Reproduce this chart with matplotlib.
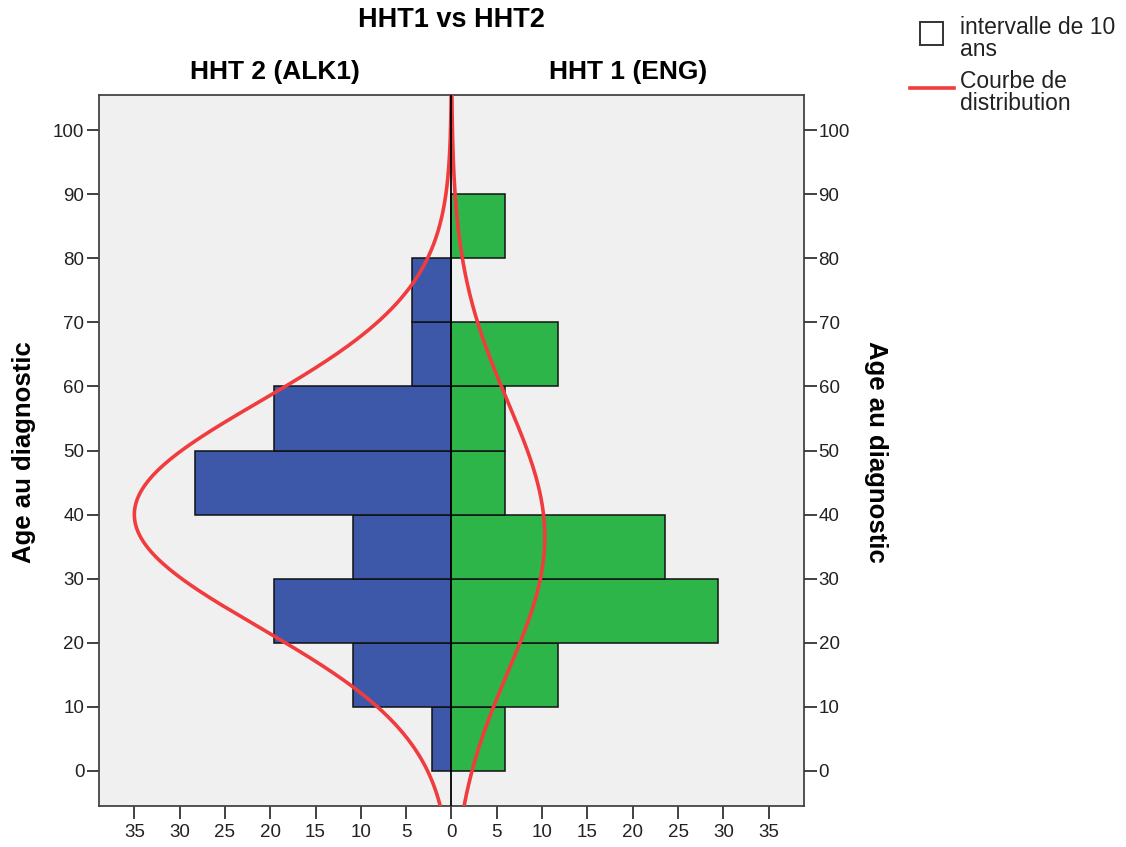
import numpy as np
import matplotlib.pyplot as plt

plt.rcParams['font.family'] = ['Liberation Sans', 'DejaVu Sans']

# Age bins (lower edge, width 10)
age_bins = [0, 10, 20, 30, 40, 50, 60, 70, 80]
# HHT 2 (ALK1) - left side
hht2_values = [2.17, 10.87, 19.57, 10.87, 28.26, 19.57, 4.35, 4.35, 0.0]
# HHT 1 (ENG) - right side
hht1_values = [5.88, 11.76, 29.41, 23.53, 5.88, 5.88, 11.76, 0.0, 5.88]

# normal curve parameters (mean, sd, peak)
hht2_curve = (40.0, 17.6, 35.0)
hht1_curve = (36.5, 21.0, 10.3)

x_ticks = [-35, -30, -25, -20, -15, -10, -5, 0, 5, 10, 15, 20, 25, 30, 35]
y_ticks = [0, 10, 20, 30, 40, 50, 60, 70, 80, 90, 100]

blue = '#3d58a9'
green = '#2eb54a'
red = '#f03c3e'

fig = plt.figure(figsize=(11.26, 8.47), dpi=100)
ax = fig.add_axes([0.0879, 0.0484, 0.6261, 0.8394])
ax.set_facecolor('#f0f0f0')

ax.barh(age_bins, [-v for v in hht2_values], height=10, align='edge',
        color=blue, edgecolor='#111111', linewidth=1.1, zorder=2)
ax.barh(age_bins, hht1_values, height=10, align='edge',
        color=green, edgecolor='#111111', linewidth=1.1, zorder=2)

# distribution curves
ages = np.linspace(-5.5, 105.5, 400)
m, s, p = hht2_curve
ax.plot(-p * np.exp(-0.5 * ((ages - m) / s) ** 2), ages, color=red, lw=2.6, zorder=3)
m, s, p = hht1_curve
ax.plot(p * np.exp(-0.5 * ((ages - m) / s) ** 2), ages, color=red, lw=2.6, zorder=3)

ax.axvline(0, color='black', lw=1.3, zorder=4)

ax.set_xlim(-38.9, 38.9)
ax.set_ylim(-5.5, 105.5)
ax.set_xticks(x_ticks)
ax.set_xticklabels([str(abs(t)) for t in x_ticks], fontsize=13.5)
ax.set_yticks(y_ticks)
ax.set_yticklabels([str(t) for t in y_ticks], fontsize=13.5)
ax.tick_params(length=9, width=1.3, color='#333333', pad=1.5, labelcolor='#222222')
ax.tick_params(axis='x', pad=4)
for sp in ax.spines.values():
    sp.set_color('#444444')
    sp.set_linewidth(1.3)
ax.set_ylabel('Age au diagnostic', fontsize=18.5, fontweight='bold', va='center')
ax.yaxis.set_label_coords(-0.106, 0.498)

ax2 = ax.twinx()
ax2.set_ylim(-5.5, 105.5)
ax2.set_yticks(y_ticks)
ax2.set_yticklabels([str(t) for t in y_ticks], fontsize=13.5)
ax2.tick_params(length=9, width=1.3, color='#333333', pad=1.5, labelcolor='#222222')
for sp in ax2.spines.values():
    sp.set_visible(False)
ax2.set_ylabel('Age au diagnostic', fontsize=18.5, fontweight='bold', rotation=270,
               va='center')
ax2.yaxis.set_label_coords(1.102, 0.498)

# titles
fig.text(0.401, 0.976, 'HHT1 vs HHT2', ha='center', va='center',
         fontsize=19.5, fontweight='bold')
fig.text(0.244, 0.915, 'HHT 2 (ALK1)', ha='center', va='center',
         fontsize=19, fontweight='bold')
fig.text(0.558, 0.915, 'HHT 1 (ENG)', ha='center', va='center',
         fontsize=19, fontweight='bold')

# legend
fig.patches.append(plt.Rectangle((0.8170, 0.9469), 0.0204, 0.0272,
                                 transform=fig.transFigure, facecolor='white',
                                 edgecolor='#333333', lw=1.4))
fig.text(0.853, 0.955, 'intervalle de 10\nans', ha='left', va='center',
         fontsize=16.5, linespacing=0.95, color='#222222')
fig.lines.append(plt.Line2D([0.808, 0.847], [0.896, 0.896],
                            transform=fig.transFigure, color=red, lw=2.6))
fig.text(0.853, 0.8905, 'Courbe de\ndistribution', ha='left', va='center',
         fontsize=16.5, linespacing=0.95, color='#222222')

fig.savefig('out.png', dpi=100)
